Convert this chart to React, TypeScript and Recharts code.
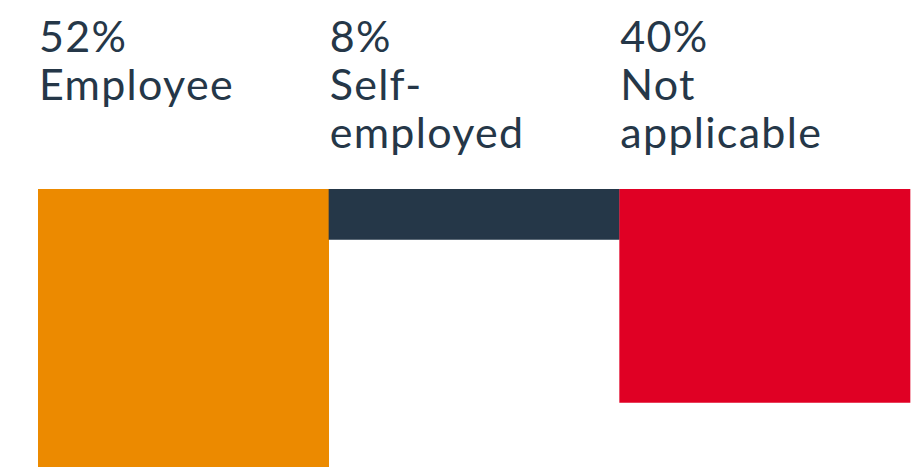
import React from "react";
import { BarChart, Bar, XAxis, YAxis, Cell, LabelList } from "recharts";

// Categories and their label lines (percent shown above the name)
const categories = ["Employee", "Self-employed", "Not applicable"];
const nameLines = [["Employee"], ["Self-", "employed"], ["Not", "applicable"]];
const percentLabels = ["52%", "8%", "40%"];
// Bar lengths as drawn in the picture (the middle bar is drawn a little longer than 8%)
const shares = [52, 9.5, 40];
const colors = ["#EC8A00", "#253748", "#E00024"];

const data = categories.map((name, i) => ({ name, share: shares[i] }));

const TEXT_COLOR = "#253748";
const FONT = "Lato, 'Open Sans', sans-serif";

const TopLabel = (props: any) => {
  const vb = props.viewBox || {};
  const x = props.x ?? vb.x;
  const y = props.y ?? vb.y;
  const h = props.height ?? vb.height ?? 0;
  const top = Math.min(y, y + h);
  const i = props.index;
  const lines = [percentLabels[i], ...nameLines[i]];
  // first line baseline sits 137px above the bar, then 48px line spacing
  return (
    <text fill={TEXT_COLOR} fontFamily={FONT} fontSize={43} letterSpacing={1.3}>
      {lines.map((ln, k) => (
        <tspan key={k} x={x + 1} y={top - 137 + k * 48}>
          {ln}
        </tspan>
      ))}
    </text>
  );
};

export default function App() {
  return (
    <div style={{ position: "absolute", left: 0, top: 0, background: "#fff" }}>
      <BarChart
        width={923}
        height={476}
        data={data}
        margin={{ top: 189, right: 13, bottom: 9, left: 38 }}
        barCategoryGap={0}
        barGap={0}
      >
        <XAxis dataKey="name" hide />
        <YAxis hide reversed domain={[0, 52]} />
        <Bar dataKey="share" isAnimationActive={false}>
          {data.map((d, i) => (
            <Cell key={d.name} fill={colors[i]} />
          ))}
          <LabelList dataKey="name" content={TopLabel} />
        </Bar>
      </BarChart>
    </div>
  );
}
